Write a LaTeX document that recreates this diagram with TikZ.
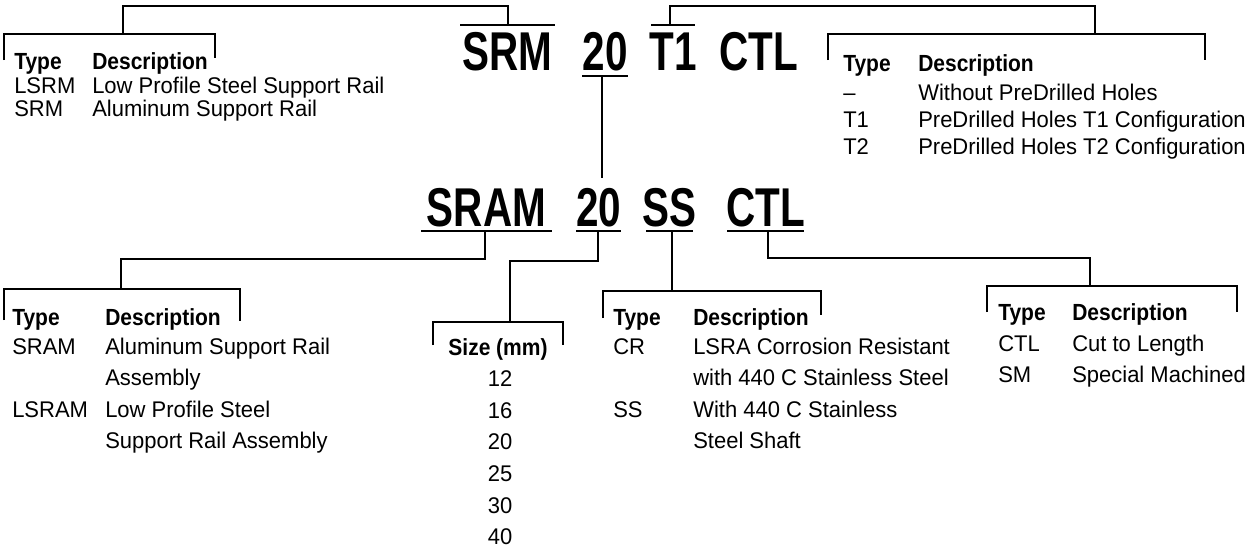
\documentclass[tikz,border=0pt]{standalone}
\usepackage{fontspec}
\setmainfont{Liberation Sans}[FakeStretch=0.97,BoldFeatures={FakeStretch=0.9}]
\newfontfamily\titlefont{Liberation Sans}[FakeStretch=0.74,BoldFeatures={FakeStretch=0.74}]
\begin{document}
\begin{tikzpicture}[x=0.75pt,y=-0.75pt,
  conn/.style={line width=1.6pt},
  tx/.style={anchor=base west, inner sep=0pt, font=\fontsize{17}{19}\selectfont},
  hd/.style={anchor=base west, inner sep=0pt, font=\fontsize{17.5}{19}\selectfont\bfseries},
  num/.style={anchor=base, inner sep=0pt, font=\fontsize{17}{19}\selectfont},
  ttl/.style={anchor=base, inner sep=0pt, font=\fontsize{41}{42}\selectfont\titlefont\bfseries}]
\useasboundingbox (0,0) rectangle (1260,547);

% ---------- top title ----------
\node[ttl] (tSRM) at (507.5,70) {SRM};
\node[ttl] (t20)  at (605,70) {20};
\node[ttl] (tT1)  at (673,70) {T1};
\node[ttl] (tCTL) at (759,70) {CTL};

% ---------- bottom title ----------
\node[ttl] (bSRAM) at (486.5,226) {SRAM};
\node[ttl] (b20)   at (598.5,226) {20};
\node[ttl] (bSS)   at (669.5,226) {SS};
\node[ttl] (bCTL)  at (765.5,226) {CTL};

% over/underlines
\coordinate (oSRMl) at (460,25); \coordinate (oSRMr) at (555,25);
\coordinate (u20l) at (582,76); \coordinate (u20r) at (628,76);
\coordinate (oT1l) at (651,25); \coordinate (oT1r) at (695,25);
\draw[conn] (oSRMl) -- (oSRMr);
\draw[conn] (u20l) -- (u20r);
\draw[conn] (oT1l) -- (oT1r);
\coordinate (uSRAMl) at (421,231); \coordinate (uSRAMr) at (552,231);
\coordinate (ub20l) at (576,231); \coordinate (ub20r) at (621,231);
\coordinate (uSSl) at (646,231); \coordinate (uSSr) at (693,231);
\coordinate (uCTLl) at (727,231); \coordinate (uCTLr) at (804,231);
\draw[conn] (uSRAMl) -- (uSRAMr);
\draw[conn] (ub20l) -- (ub20r);
\draw[conn] (uSSl) -- (uSSr);
\draw[conn] (uCTLl) -- (uCTLr);

% ---------- top-left table ----------
\coordinate (jTL) at (508,25);
\coordinate (bTL) at (123,34);
\draw[conn] (jTL) -- (508,6) -| (bTL);
\draw[conn] (4,60) -- (4,34) -- (215,34) -- (215,58);
\node[hd] (tlh1) at (14,69) {Type};
\node[hd] (tlh2) at (92,69) {Description};
\node[tx] (tl1a) at (14,93) {LSRM};
\node[tx] (tl1b) at (92,93) {Low Profile Steel Support Rail};
\node[tx] (tl2a) at (14,116) {SRM};
\node[tx] (tl2b) at (92,116) {Aluminum Support Rail};

% ---------- top-right table ----------
\coordinate (jTR) at (670,25);
\coordinate (bTR) at (1095,34);
\draw[conn] (jTR) -- (670,6) -| (bTR);
\draw[conn] (828,60) -- (828,34) -- (1205,34) -- (1205,60);
\node[hd] (trh1) at (843,71) {Type};
\node[hd] (trh2) at (918,71) {Description};
\node[tx] (tr1a) at (843,100) {–};
\node[tx] (tr1b) at (918,100) {Without PreDrilled Holes};
\node[tx] (tr2a) at (843,127) {T1};
\node[tx] (tr2b) at (918,127) {PreDrilled Holes T1 Configuration};
\node[tx] (tr3a) at (843,154) {T2};
\node[tx] (tr3b) at (918,154) {PreDrilled Holes T2 Configuration};

% ---------- middle link ----------
\coordinate (mid1) at (602,76);
\coordinate (mid2) at (602,178);
\draw[conn] (mid1) -- (mid2);

% ---------- bottom-left table ----------
\coordinate (jBL) at (485,231);
\coordinate (bBL) at (121,289);
\draw[conn] (jBL) -- (485,259) -| (bBL);
\draw[conn] (4,320) -- (4,289) -- (240,289) -- (240,321);
\node[hd] (blh1) at (12,325) {Type};
\node[hd] (blh2) at (105,325) {Description};
\node[tx] (bl1a) at (12,354) {SRAM};
\node[tx] (bl1b) at (105,354) {Aluminum Support Rail};
\node[tx] (bl1c) at (105,385.6) {Assembly};
\node[tx] (bl2a) at (12,417.2) {LSRAM};
\node[tx] (bl2b) at (105,417.2) {Low Profile Steel};
\node[tx] (bl2c) at (105,448.8) {Support Rail Assembly};

% ---------- size table ----------
\coordinate (jSZ) at (598,231);
\coordinate (bSZ) at (510,322);
\draw[conn] (jSZ) -- (598,261) -| (bSZ);
\draw[conn] (433,345) -- (433,322) -- (563,322) -- (563,345);
\node[num, font=\fontsize{17.5}{19}\selectfont\bfseries] (szh) at (498,355) {Size (mm)};
\node[num] (sz1) at (500,386.6) {12};
\node[num] (sz2) at (500,418.2) {16};
\node[num] (sz3) at (500,449.8) {20};
\node[num] (sz4) at (500,481.4) {25};
\node[num] (sz5) at (500,513) {30};
\node[num] (sz6) at (500,544.6) {40};

% ---------- SS table ----------
\coordinate (jSS) at (672,231);
\coordinate (bSSt) at (672,291);
\draw[conn] (jSS) -- (bSSt);
\draw[conn] (603,318) -- (603,291) -- (821,291) -- (821,315);
\node[hd] (ssh1) at (613,325) {Type};
\node[hd] (ssh2) at (693,325) {Description};
\node[tx] (ss1a) at (613,354) {CR};
\node[tx] (ss1b) at (693,354) {LSRA Corrosion Resistant};
\node[tx] (ss1c) at (693,385.6) {with 440 C Stainless Steel};
\node[tx] (ss2a) at (613,417.2) {SS};
\node[tx] (ss2b) at (693,417.2) {With 440 C Stainless};
\node[tx] (ss2c) at (693,448.8) {Steel Shaft};

% ---------- CTL table ----------
\coordinate (jCT) at (768,231);
\coordinate (bCT) at (1090,286);
\draw[conn] (jCT) -- (768,258) -| (bCT);
\draw[conn] (987,312) -- (987,286) -- (1237,286) -- (1237,312);
\node[hd] (cth1) at (998,320) {Type};
\node[hd] (cth2) at (1072,320) {Description};
\node[tx] (ct1a) at (998,351) {CTL};
\node[tx] (ct1b) at (1072,351) {Cut to Length};
\node[tx] (ct2a) at (998,382) {SM};
\node[tx] (ct2b) at (1072,382) {Special Machined};
\end{tikzpicture}
\end{document}
